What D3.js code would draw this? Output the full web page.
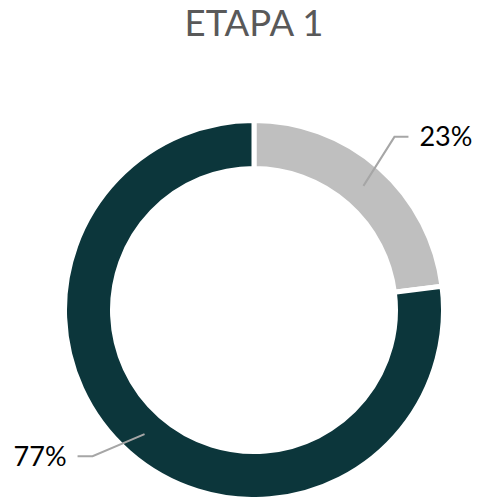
<!DOCTYPE html>
<html>
<head>
<meta charset="utf-8">
<script src="https://cdn.jsdelivr.net/npm/d3@7/dist/d3.min.js"></script>
<style>
  html, body { margin: 0; padding: 0; background: #fff; }
  svg { display: block; }
</style>
</head>
<body>
<script>
// Share of participants by group, stage 1
const categories = ["Grupo A", "Grupo B"];
const values = [23, 77];
const labels = ["23%", "77%"];
const colors = ["#bfbfbf", "#0c363b"];
const title = "ETAPA 1";

const width = 481, height = 497;
const cx = 254, cy = 310;
const outerR = 189.5, innerR = 141.5;

const svg = d3.select("body").append("svg")
  .attr("width", width)
  .attr("height", height);

svg.append("text")
  .attr("x", cx)
  .attr("y", 36)
  .attr("text-anchor", "middle")
  .attr("font-family", "Lato, 'Open Sans', sans-serif")
  .attr("font-size", 36.5)
  .attr("fill", "#595959")
  .text(title);

const pie = d3.pie().sort(null).value(d => d)(values);
const arc = d3.arc().innerRadius(innerR).outerRadius(outerR);

const g = svg.append("g").attr("transform", `translate(${cx},${cy})`);

g.selectAll("path.slice")
  .data(pie)
  .join("path")
  .attr("class", "slice")
  .attr("d", arc)
  .attr("fill", (d, i) => colors[i])
  .attr("stroke", "#fff")
  .attr("stroke-width", 5)
  .attr("stroke-linejoin", "miter");

// Leader line layout: elbow offset from the arc centroid and horizontal run
const leaderLayout = [
  { dx: 31, dy: -49, run: 14, gap: 11 },
  { dx: -52, dy: 22, run: -15, gap: -11 }
];

pie.forEach((d, i) => {
  const [x0, y0] = arc.centroid(d);
  const L = leaderLayout[i];
  const x1 = x0 + L.dx, y1 = y0 + L.dy;
  const x2 = x1 + L.run;
  g.append("polyline")
    .attr("points", [[x0, y0], [x1, y1], [x2, y1]].map(p => p.join(",")).join(" "))
    .attr("fill", "none")
    .attr("stroke", "#a6a6a6")
    .attr("stroke-width", 2);
  g.append("text")
    .attr("x", x2 + L.gap)
    .attr("y", y1 + 9.5)
    .attr("text-anchor", L.run > 0 ? "start" : "end")
    .attr("font-family", "Lato, 'Open Sans', sans-serif")
    .attr("font-size", 27)
    .attr("fill", "#000")
    .text(labels[i]);
});
</script>
</body>
</html>
